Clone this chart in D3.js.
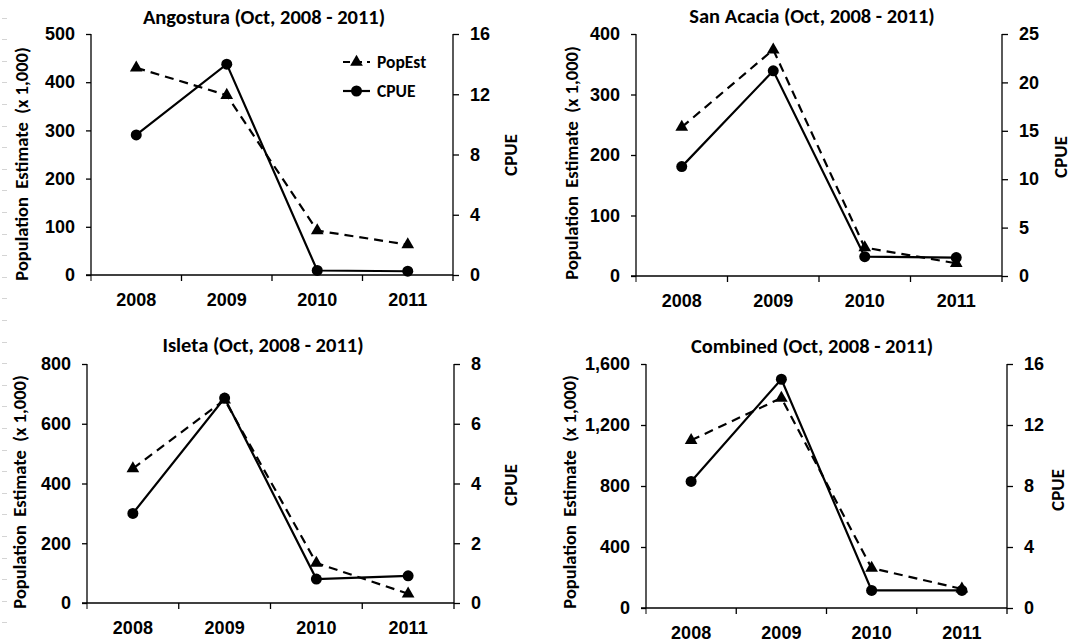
<!DOCTYPE html>
<html>
<head>
<meta charset="utf-8">
<script src="https://cdn.jsdelivr.net/npm/d3@7"></script>
<style>
  html, body { margin: 0; padding: 0; background: #fff; }
  svg { display: block; font-family: Carlito, Calibri, "Liberation Sans Narrow", "DejaVu Sans Condensed", sans-serif; font-weight: bold; }
</style>
</head>
<body>
<div id="chart"></div>
<script>
// data
const years = ["2008", "2009", "2010", "2011"];
const sites = ["Angostura", "San Acacia", "Isleta", "Combined"];
const popEst = [
  [430, 373, 92, 63],
  [246, 374, 47, 21],
  [450, 680, 134, 31],
  [1100, 1377, 262, 125],
];
const cpue = [
  [9.3, 14.0, 0.3, 0.25],
  [11.3, 21.2, 2.0, 1.9],
  [3.0, 6.86, 0.8, 0.91],
  [8.3, 15.0, 1.15, 1.15],
];
const leftMax = [500, 400, 800, 1600];
const leftStep = [100, 100, 200, 400];
const rightMax = [16, 25, 8, 16];
const rightStep = [4, 5, 2, 4];

// panel frames (plot area) and label anchors
const frames = [
  { x0: 91, x1: 453, y0: 34, y1: 275, tx: 264, ty: 24, lx: 22, ly: 164, rx: 510, ry: 155 },
  { x0: 636, x1: 1002, y0: 34, y1: 276, tx: 812, ty: 23, lx: 572, ly: 163, rx: 1060, ry: 157 },
  { x0: 87, x1: 454, y0: 364, y1: 603, tx: 263, ty: 352, lx: 20, ly: 492, rx: 510, ry: 485 },
  { x0: 646, x1: 1007, y0: 364, y1: 608, tx: 812, ty: 353, lx: 570, ly: 492, rx: 1057, ry: 490 },
];

const W = 1091, H = 644;
const svg = d3.select("#chart").append("svg").attr("width", W).attr("height", H);

// faint margin marks along the left edge of the scan
const marks = svg.append("g").attr("stroke", "#d4d4d4").attr("stroke-width", 1);
d3.range(17.5, H, 21.6).forEach((y) => {
  marks.append("line").attr("x1", 2).attr("x2", 7).attr("y1", Math.round(y) + 0.5).attr("y2", Math.round(y) + 0.5);
});

const fmt = d3.format(",");
const triangle = d3.symbol().type(d3.symbolTriangle).size(70);

sites.forEach((site, i) => {
  const f = frames[i];
  const g = svg.append("g");

  const x = d3.scaleBand().domain(years).range([f.x0, f.x1]);
  const yL = d3.scaleLinear().domain([0, leftMax[i]]).range([f.y1, f.y0]);
  const yR = d3.scaleLinear().domain([0, rightMax[i]]).range([f.y1, f.y0]);

  // left axis
  const left = g.append("g")
    .attr("transform", `translate(${f.x0},0)`)
    .call(d3.axisLeft(yL).tickValues(d3.range(0, leftMax[i] + 1, leftStep[i])).tickFormat(fmt).tickSize(5).tickPadding(11));
  // right axis
  const right = g.append("g")
    .attr("transform", `translate(${f.x1},0)`)
    .call(d3.axisRight(yR).tickValues(d3.range(0, rightMax[i] + 1, rightStep[i])).tickSize(6).tickPadding(11));
  // bottom axis: ticks at band edges
  const bottom = g.append("g")
    .attr("transform", `translate(0,${f.y1})`)
    .call(d3.axisBottom(x).tickSize(0).tickPadding(18));
  bottom.selectAll(".tick").append("line")
    .attr("x1", x.bandwidth() / 2).attr("x2", x.bandwidth() / 2)
    .attr("y1", 0).attr("y2", 6).attr("stroke", "#000");
  bottom.append("line")
    .attr("x1", f.x0).attr("x2", f.x0).attr("y1", 0).attr("y2", 6).attr("stroke", "#000");

  [left, right, bottom].forEach((a) => {
    a.select(".domain").attr("stroke", "#000").attr("stroke-width", 1.3);
    a.selectAll(".tick line").attr("stroke", "#000").attr("stroke-width", 1.3);
    a.selectAll("text").attr("fill", "#000").style("font-size", "18px").style("font-weight", "bold");
  });
  // x domain without end caps
  bottom.select(".domain").attr("d", `M${f.x0 - 5},0H${f.x1}`);
  left.select(".domain").attr("d", `M0,${f.y1}V${f.y0}`);
  right.select(".domain").attr("d", `M0,${f.y1}V${f.y0}`);

  // title and axis titles
  g.append("text").attr("x", f.tx).attr("y", f.ty).attr("text-anchor", "middle")
    .style("font-size", "20.5px").text(`${site} (Oct, 2008 - 2011)`);
  g.append("text").attr("transform", `translate(${f.lx},${f.ly}) rotate(-90)`)
    .attr("text-anchor", "middle").attr("dy", "0.35em")
    .style("font-size", "18.5px").style("white-space", "pre")
    .text("Population  Estimate  (x 1,000)");
  g.append("text").attr("transform", `translate(${f.rx},${f.ry}) rotate(-90)`)
    .attr("text-anchor", "middle").attr("dy", "0.35em")
    .style("font-size", "19px").text("CPUE");

  const cx = (d, j) => x(years[j]) + x.bandwidth() / 2;

  // PopEst dashed with triangles
  g.append("path").datum(popEst[i])
    .attr("fill", "none").attr("stroke", "#000").attr("stroke-width", 2.2)
    .attr("stroke-dasharray", "9,6")
    .attr("d", d3.line().x(cx).y((d) => yL(d)));
  g.selectAll(".tri").data(popEst[i]).join("path").attr("class", "tri")
    .attr("d", triangle).attr("fill", "#000")
    .attr("transform", (d, j) => `translate(${cx(d, j)},${yL(d)})`);

  // CPUE solid with circles
  g.append("path").datum(cpue[i])
    .attr("fill", "none").attr("stroke", "#000").attr("stroke-width", 2.2)
    .attr("d", d3.line().x(cx).y((d) => yR(d)));
  g.selectAll(".dot").data(cpue[i]).join("circle").attr("class", "dot")
    .attr("cx", cx).attr("cy", (d) => yR(d)).attr("r", 5.5).attr("fill", "#000");
});

// legend (first panel only)
const legend = svg.append("g").attr("transform", "translate(343,0)");
const items = [
  { name: "PopEst", dash: "7,5", y: 62 },
  { name: "CPUE", dash: null, y: 91 },
];
items.forEach((it) => {
  legend.append("line").attr("x1", 0).attr("x2", 27).attr("y1", it.y).attr("y2", it.y)
    .attr("stroke", "#000").attr("stroke-width", 2.2).attr("stroke-dasharray", it.dash);
  if (it.name === "PopEst") {
    legend.append("path").attr("d", triangle).attr("transform", `translate(13.5,${it.y})`).attr("fill", "#000");
  } else {
    legend.append("circle").attr("cx", 13.5).attr("cy", it.y).attr("r", 5.5).attr("fill", "#000");
  }
  legend.append("text").attr("x", 34).attr("y", it.y).attr("dy", "0.35em")
    .style("font-size", "17.5px").text(it.name);
});
</script>
</body>
</html>
